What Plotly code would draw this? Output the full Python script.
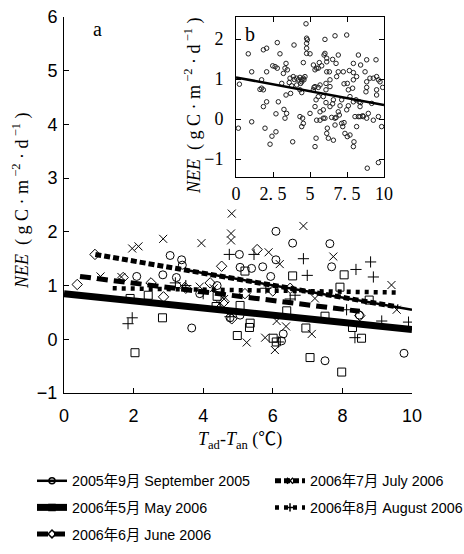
import plotly.graph_objects as go

# ---------------- Panel a: scatter data ----------------
sep_x = [2.09, 2.84, 3.05, 3.23, 3.38, 3.40, 3.67, 4.77, 5.04, 5.06, 5.06, 5.39, 5.71, 5.94, 6.09, 6.09, 6.25, 6.57, 7.50, 7.64, 7.69, 8.49, 9.77, 4.40, 3.90, 6.30]
sep_y = [1.17, 1.20, 1.56, 1.15, 1.48, 1.38, 0.21, 0.40, 1.58, 1.34, 0.45, 1.32, 1.35, 1.17, 2.01, 1.48, -0.03, 1.79, -0.40, 1.78, 1.35, 0.45, -0.26, 1.00, 0.85, 0.10]

may_x = [1.90, 2.04, 2.42, 2.83, 4.37, 4.40, 4.98, 5.06, 5.20, 5.33, 5.35, 6.01, 6.10, 6.40, 6.57, 6.95, 7.07, 7.50, 7.93, 7.98, 8.05, 8.29, 8.55, 8.77]
may_y = [0.76, -0.25, 0.82, 0.40, 0.61, 0.80, 0.07, 0.63, 1.27, 0.22, 0.30, 0.02, -0.05, 0.53, 1.18, 0.21, -0.34, 0.43, 0.97, -0.61, 1.20, 0.22, 0.02, 0.73]

jun_x = [0.38, 0.89, 1.70, 2.50, 2.86, 3.50, 4.20, 4.53, 4.60, 4.82, 5.20, 5.55, 6.00, 6.50, 8.50]
jun_y = [1.02, 1.58, 1.15, 1.05, 0.79, 0.95, 1.05, 1.36, 0.70, 0.38, 0.85, 1.67, 0.90, 0.95, 0.44]

jul_x = [1.05, 1.65, 1.96, 2.14, 2.85, 3.38, 3.95, 4.46, 4.80, 4.80, 4.82, 5.25, 5.78, 5.88, 6.06, 6.11, 6.20, 6.38, 6.88, 7.12, 7.21, 7.74, 9.41, 9.56, 4.30, 4.60, 3.90]
jul_y = [1.17, 1.16, 1.69, 1.73, 1.87, 1.00, 1.79, 0.66, 1.84, 1.97, 2.34, -0.06, 0.03, 1.62, -0.20, 0.34, 1.40, 0.24, 2.11, 0.10, 0.76, 1.54, 1.01, 0.55, 0.95, 0.75, 0.98]

aug_x = [1.84, 1.96, 3.50, 4.00, 4.75, 4.77, 5.46, 6.16, 6.50, 6.64, 6.88, 6.99, 8.12, 8.36, 8.39, 8.81, 8.89, 9.13, 9.90, 3.20, 5.80]
aug_y = [0.29, 0.40, 1.00, 0.85, 1.58, 0.42, 1.58, -0.05, 0.75, 0.82, 1.50, 1.19, 0.55, 0.03, 1.30, 1.44, 1.16, 0.34, 0.32, 1.05, 0.95]

# fitted lines (end points)
sep_fit_x = [3.5, 10.0]
sep_fit_y = [1.29, 0.55]
may_fit_x = [0.0, 10.0]
may_fit_y = [0.85, 0.18]
jun_fit_x = [0.46, 8.5]
jun_fit_y = [1.17, 0.52]
jul_fit_x = [0.9, 9.6]
jul_fit_y = [1.58, 0.60]
aug_fit_x = [1.4, 9.65]
aug_fit_y = [0.95, 0.87]

# ---------------- Panel b: all data ----------------
all_x = [0.83, 0.23, 0.16, 1.06, 1.06, 1.85, 2.07, 1.73, 2.79, 2.97, 2.48, 2.64, 2.79, 2.07, 1.73, 1.62, 1.85, 1.85, 2.07, 1.96,
         2.30, 2.43, 2.70, 2.70, 2.86, 3.09, 3.20, 3.31, 3.38, 3.47, 3.65, 3.69, 3.38, 3.42, 3.31, 3.24, 3.92, 3.87, 3.94, 4.10,
         4.21, 4.32, 4.44, 4.55, 4.66, 3.60, 3.76, 4.10, 4.32, 4.37, 4.55, 4.59, 4.77, 4.82, 4.77, 4.77, 4.44, 4.44, 4.50, 4.44,
         4.55, 4.32, 3.83, 4.73, 4.77, 5.00, 5.23, 5.27, 5.34, 5.00, 5.23, 5.34, 5.45, 5.56, 5.63, 5.79, 5.34, 5.56, 5.68, 5.56,
         5.90, 5.41, 5.41, 5.34, 5.45, 5.68, 5.90, 5.95, 6.01, 6.01, 6.13, 6.13, 6.31, 6.35, 6.13, 6.35, 6.08, 6.35, 6.46, 6.01,
         6.17, 6.13, 6.24, 6.58, 6.69, 6.53, 6.58, 6.76, 6.91, 6.69, 5.68, 5.90, 6.08, 6.08, 6.80, 6.91, 6.76, 6.91, 6.53, 6.69,
         7.48, 7.25, 7.52, 7.30, 7.14, 7.03, 6.98, 7.14, 7.30, 7.21, 7.36, 7.52, 7.48, 7.59, 7.59, 7.70, 7.88, 7.93, 7.93, 7.66,
         8.15, 8.11, 7.93, 8.33, 8.38, 8.04, 8.38, 8.15, 7.97, 7.93, 7.70, 8.42, 8.56, 8.27, 8.60, 7.93, 8.27, 8.42, 8.72, 8.83,
         8.78, 8.83, 8.83, 8.94, 8.83, 9.05, 9.28, 9.50, 9.46, 9.17, 9.28, 9.62, 9.50, 9.73, 9.62, 9.84, 9.62, 8.87, 9.91, 9.50]
all_y = [1.63, 0.87, -0.23, -0.07, 1.18, 1.73, 1.77, 0.98, 1.91, 1.63, 1.33, 1.31, 1.27, 1.18, 0.77, 0.74, 0.73, 0.31, 0.43, -0.23,
         -0.63, -0.43, -0.32, 0.13, 0.43, 0.89, 1.14, 1.27, 1.39, 1.23, 1.02, 0.64, 0.60, 0.14, 0.02, 0.24, 1.85, 1.06, 0.99, 1.02,
         0.98, 1.04, 0.98, 1.02, 1.06, 0.91, 0.83, 0.85, 0.73, 0.89, 1.41, 0.98, 1.64, 1.98, 1.77, 1.89, 0.93, 0.66, 0.02, -0.19,
         -0.11, 0.06, -0.57, 2.38, 2.02, 1.63, 0.73, 0.79, 0.31, 0.14, 1.35, 1.23, 1.27, 1.27, 1.41, 1.33, 0.81, 0.79, 0.85, 0.56,
         0.56, 0.48, -0.48, -0.69, -0.03, -0.03, 0.02, 1.60, 1.64, 1.99, 1.52, 1.43, 1.18, 0.98, 1.18, 0.81, 0.41, 0.31, 0.04, 0.02,
         -0.23, -0.36, -0.48, -0.53, -0.15, 0.38, 0.48, 0.04, 0.18, 0.02, 0.18, 0.23, 0.73, 0.89, 1.06, 1.18, 1.39, 1.60, 1.49, 2.08,
         2.10, 1.18, 0.89, 0.88, 0.48, 0.33, 0.10, -0.11, -0.09, -0.19, -0.36, -0.44, 0.23, 0.33, 0.73, 0.56, 0.77, 0.98, 1.16, 1.21,
         1.06, 0.48, 0.43, 0.43, 0.31, 0.06, 0.06, -0.19, -0.57, -0.69, -0.40, 0.41, 0.08, 0.06, 0.06, 1.39, 1.60, 1.35, 1.18, 1.48,
         0.68, 0.79, 0.02, 0.14, 0.93, 1.02, 1.02, 1.06, 1.48, 0.39, -0.03, 0.98, 0.60, 0.93, 0.06, -0.19, -1.09, -1.23, 0.79, 0.73]
all_fit_x = [0.0, 10.0]
all_fit_y = [1.04, 0.35]

# tick labels
main_x_ticks = [0, 2, 4, 6, 8, 10]
main_y_ticks = [-1, 0, 1, 2, 3, 4, 5, 6]
inset_x_ticks = [0, 2.5, 5, 7.5, 10]
inset_x_text = ["0", "2. 5", "5", "7. 5", "10"]
inset_y_ticks = [-1, 0, 1, 2]

names = {
    "sep": "2005年9月 September 2005",
    "jul": "2006年7月 July 2006",
    "may": "2006年5月 May 2006",
    "aug": "2006年8月 August 2006",
    "jun": "2006年6月 June 2006",
}

W, H = 464, 554
BLACK = "#000000"
SANS = "Liberation Sans, Arial, Noto Sans CJK SC, sans-serif"
SERIF = "Liberation Serif, Times New Roman, Noto Sans CJK SC, serif"

series = [
    ("sep", sep_x, sep_y, sep_fit_x, sep_fit_y, "circle-open", 8, 2.5, "solid"),
    ("jul", jul_x, jul_y, jul_fit_x, jul_fit_y, "x-thin-open", 8, 5, "6px,3px"),
    ("may", may_x, may_y, may_fit_x, may_fit_y, "square-open", 8, 7, "solid"),
    ("aug", aug_x, aug_y, aug_fit_x, aug_fit_y, "cross-thin-open", 8, 4.5, "4px,5px"),
    ("jun", jun_x, jun_y, jun_fit_x, jun_fit_y, "diamond-open", 8, 5, "11px,6px"),
]

fig = go.Figure()

for key, x, y, fx, fy, sym, ms, lw, dash in series:
    fig.add_trace(go.Scatter(
        x=x, y=y, mode="markers", showlegend=False,
        marker=dict(symbol=sym, size=ms, color=BLACK, line=dict(color=BLACK, width=1)),
        xaxis="x", yaxis="y"))
for key, x, y, fx, fy, sym, ms, lw, dash in series:
    fig.add_trace(go.Scatter(
        x=fx, y=fy, mode="lines", showlegend=False,
        line=dict(color=BLACK, width=lw, dash=dash),
        xaxis="x", yaxis="y"))

# legend entries (line + marker symbol)
legend_of = {"sep": "legend", "may": "legend", "jun": "legend", "jul": "legend2", "aug": "legend2"}
for key, x, y, fx, fy, sym, ms, lw, dash in series:
    fig.add_trace(go.Scatter(
        x=[None], y=[None], mode="lines+markers", name=names[key],
        legend=legend_of[key], legendgroup=key,
        marker=dict(symbol=sym, size=6, color=BLACK, line=dict(color=BLACK, width=1.5)),
        line=dict(color=BLACK, width=lw, dash=dash),
        xaxis="x", yaxis="y"))

# inset
fig.add_trace(go.Scatter(
    x=all_x, y=all_y, mode="markers", showlegend=False,
    marker=dict(symbol="circle-open", size=4.5, color="#222222", line=dict(color="#222222", width=1)),
    xaxis="x2", yaxis="y2"))
fig.add_trace(go.Scatter(
    x=all_fit_x, y=all_fit_y, mode="lines", showlegend=False,
    line=dict(color=BLACK, width=2.5),
    xaxis="x2", yaxis="y2"))

ax_common = dict(showgrid=False, zeroline=False, showline=True, linecolor=BLACK, linewidth=1,
                 ticks="inside", ticklen=5, tickcolor=BLACK, tickwidth=1, automargin=False)

legend_common = dict(orientation="v", bgcolor="rgba(0,0,0,0)", borderwidth=0,
                     font=dict(family=SANS, size=14.3, color=BLACK),
                     tracegroupgap=5, xanchor="left", yanchor="top", itemwidth=30)

fig.update_layout(
    width=W, height=H,
    margin=dict(l=0, r=0, t=0, b=0, autoexpand=False),
    paper_bgcolor="white", plot_bgcolor="white",
    xaxis=dict(domain=[64 / W, 412 / W], range=[0, 10], tickvals=main_x_ticks, anchor="y",
               tickfont=dict(family=SANS, size=18, color=BLACK), ticklabelstandoff=6, **ax_common),
    yaxis=dict(domain=[(H - 393) / H, (H - 17) / H], range=[-1, 6], tickvals=main_y_ticks, anchor="x",
               tickfont=dict(family=SANS, size=18, color=BLACK), ticklabelstandoff=2, **ax_common),
    xaxis2=dict(domain=[236 / W, 384 / W], range=[0, 10], tickvals=inset_x_ticks, ticktext=inset_x_text,
                anchor="y2", mirror="ticks", tickfont=dict(family=SERIF, size=18, color=BLACK), **ax_common),
    yaxis2=dict(domain=[(H - 177) / H, (H - 17) / H], range=[-1.45, 2.55], tickvals=inset_y_ticks,
                anchor="x2", mirror="ticks", tickfont=dict(family=SERIF, size=18, color=BLACK),
                ticklabelstandoff=8, **ax_common),
    legend=dict(x=32 / W, y=(H - 465) / H, **legend_common),
    legend2=dict(x=270 / W, y=(H - 465) / H, **legend_common),
    showlegend=True,
)

title_txt = "<i>NEE</i>  ( g C · m<sup> −2</sup> · d<sup> −1</sup> )"
ann_common = dict(xref="paper", yref="paper", showarrow=False, xanchor="center", yanchor="middle")
fig.add_annotation(text=title_txt, x=21 / W, y=1 - 201 / H, textangle=-90,
                   font=dict(family=SERIF, size=18, color=BLACK), **ann_common)
fig.add_annotation(text=title_txt, x=193 / W, y=1 - 106 / H, textangle=-90,
                   font=dict(family=SERIF, size=18, color=BLACK), **ann_common)
fig.add_annotation(text="<i>T</i><sub>ad</sub>-<i>T</i><sub>an</sub> (℃)", x=240 / W, y=1 - 440 / H,
                   font=dict(family=SERIF, size=18, color=BLACK), **ann_common)
fig.add_annotation(text="a", x=97 / W, y=1 - 29 / H,
                   font=dict(family=SERIF, size=20, color=BLACK), **ann_common)
fig.add_annotation(text="b", x=250 / W, y=1 - 34 / H,
                   font=dict(family=SERIF, size=20, color=BLACK), **ann_common)

fig.write_html("out.html")
